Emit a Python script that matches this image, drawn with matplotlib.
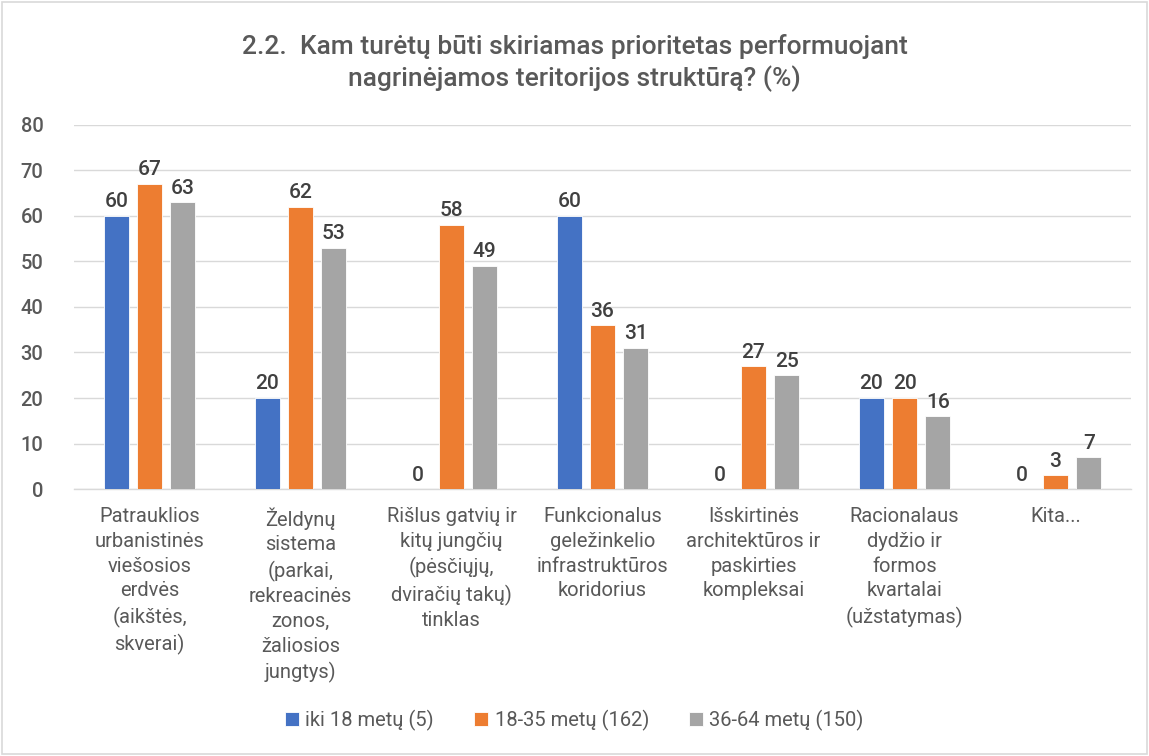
import matplotlib
matplotlib.use("Agg")
import matplotlib.pyplot as plt
import numpy as np
from matplotlib.patches import Rectangle

categories = [
    "Patrauklios\nurbanistinės\nviešosios\nerdvės\n(aikštės,\nskverai)",
    "Želdynų\nsistema\n(parkai,\nrekreacinės\nzonos,\nžaliosios\njungtys)",
    "Rišlus gatvių ir\nkitų jungčių\n(pėsčiųjų,\ndviračių takų)\ntinklas",
    "Funkcionalus\ngeležinkelio\ninfrastruktūros\nkoridorius",
    "Išskirtinės\narchitektūros ir\npaskirties\nkompleksai",
    "Racionalaus\ndydžio ir\nformos\nkvartalai\n(užstatymas)",
    "Kita...",
]
series_names = ["iki 18 metų (5)", "18-35 metų (162)", "36-64 metų (150)"]
iki18 = [60, 20, 0, 60, 0, 20, 0]
m18_35 = [67, 62, 58, 36, 27, 20, 3]
m36_64 = [63, 53, 49, 31, 25, 16, 7]
colors = ["#4472C4", "#ED7D31", "#A5A5A5"]
yticks = [0, 10, 20, 30, 40, 50, 60, 70, 80]

plt.rcParams['font.family'] = ['Roboto', 'DejaVu Sans']
txt = "#595959"

fig = plt.figure(figsize=(11.49, 7.56), dpi=100)
ax = fig.add_axes([74 / 1149, 0.353, (1131 - 74) / 1149, 0.482])

x = np.arange(len(categories))
w = 0.168
off = 0.22
for i, (vals, name) in enumerate(zip([iki18, m18_35, m36_64], series_names)):
    pos = x + (i - 1) * off
    ax.bar(pos, vals, width=w, color=colors[i], label=name, zorder=3,
           edgecolor="white", linewidth=0.6)
    for p, v in zip(pos, vals):
        ax.text(p, v + 1.0, f"{v}", ha="center", va="bottom", fontsize=15,
                fontweight=500, color="#404040")

ax.set_xlim(-0.5, len(categories) - 0.5)
ax.set_ylim(0, 80)
ax.set_yticks(yticks)
ax.yaxis.grid(True, color="#D9D9D9", linewidth=1, zorder=0)
ax.set_axisbelow(True)
for s in ["left", "right", "top"]:
    ax.spines[s].set_visible(False)
ax.spines["bottom"].set_color("#D9D9D9")
ax.spines["bottom"].set_linewidth(1)
ax.tick_params(axis="both", length=0, labelsize=14, colors=txt)
ax.tick_params(axis="y", pad=22)
ax.set_xticks(x)
ax.set_xticklabels(categories, fontsize=14.5, color=txt, linespacing=1.38)
ax.tick_params(axis="x", pad=13)
for lbl in ax.get_yticklabels():
    lbl.set_fontweight(500)
    lbl.set_fontsize(14.5)

fig.text(0.5, 0.917, "2.2.  Kam turėtų būti skiriamas prioritetas performuojant\nnagrinėjamos teritorijos struktūrą? (%)",
         ha="center", va="center", fontsize=19, color=txt, linespacing=1.3,
         fontweight=500)

leg = fig.legend(loc="center", bbox_to_anchor=(0.5, 0.047), ncol=3, frameon=False,
                 fontsize=14.5, handlelength=0.7, handleheight=0.7, handletextpad=0.3,
                 columnspacing=2.0)
for t in leg.get_texts():
    t.set_color(txt)

fig.patches.append(Rectangle((0.002, 0.002), 0.996, 0.996, transform=fig.transFigure,
                             fill=False, edgecolor="#D9D9D9", linewidth=1.2))

fig.savefig("out.png", dpi=100)
